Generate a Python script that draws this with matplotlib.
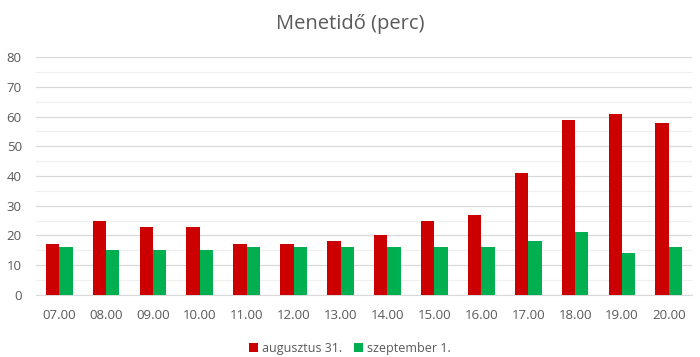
import numpy as np
import matplotlib.pyplot as plt
from matplotlib.ticker import MultipleLocator

hours = ["07.00", "08.00", "09.00", "10.00", "11.00", "12.00", "13.00",
         "14.00", "15.00", "16.00", "17.00", "18.00", "19.00", "20.00"]
aug31 = [17, 25, 23, 23, 17, 17, 18, 20, 25, 27, 41, 59, 61, 58]
sep1 = [16, 15, 15, 15, 16, 16, 16, 16, 16, 16, 18, 21, 14, 16]

plt.rcParams['font.family'] = ['Open Sans', 'DejaVu Sans']

fig = plt.figure(figsize=(7, 3.57), dpi=100)
ax = fig.add_axes([0.051, 0.174, 0.938, 0.666])

x = np.arange(len(hours))
w = 0.285
ax.bar(x - w / 2, aug31, w, color="#CC0000", label="augusztus 31.", zorder=3)
ax.bar(x + w / 2, sep1, w, color="#00B050", label="szeptember 1.", zorder=3)

ax.set_xlim(-0.5, len(hours) - 0.5)
ax.set_ylim(0, 80)
ax.yaxis.set_major_locator(MultipleLocator(10))
ax.yaxis.set_minor_locator(MultipleLocator(5))
ax.grid(axis='y', which='major', color="#D9D9D9", lw=0.9, zorder=0)
ax.grid(axis='y', which='minor', color="#F0F0F0", lw=0.9, zorder=0)
ax.set_xticks(x)
ax.set_xticklabels(hours)
ax.tick_params(axis='both', which='both', length=0, labelsize=9.5, colors="#595959")
ax.tick_params(axis='x', pad=10)
ax.tick_params(axis='y', pad=10)
for s in ['top', 'right', 'left']:
    ax.spines[s].set_visible(False)
ax.spines['bottom'].set_color("#D9D9D9")

fig.suptitle("Menetidő (perc)", y=0.96, fontsize=14.5, color="#595959")
fig.legend(loc='lower center', ncol=2, frameon=False, fontsize=9,
           bbox_to_anchor=(0.5, -0.025), handlelength=0.7, handleheight=0.7,
           handletextpad=0.3, columnspacing=1.0, labelcolor="#595959")

fig.savefig("out.png", dpi=100)
